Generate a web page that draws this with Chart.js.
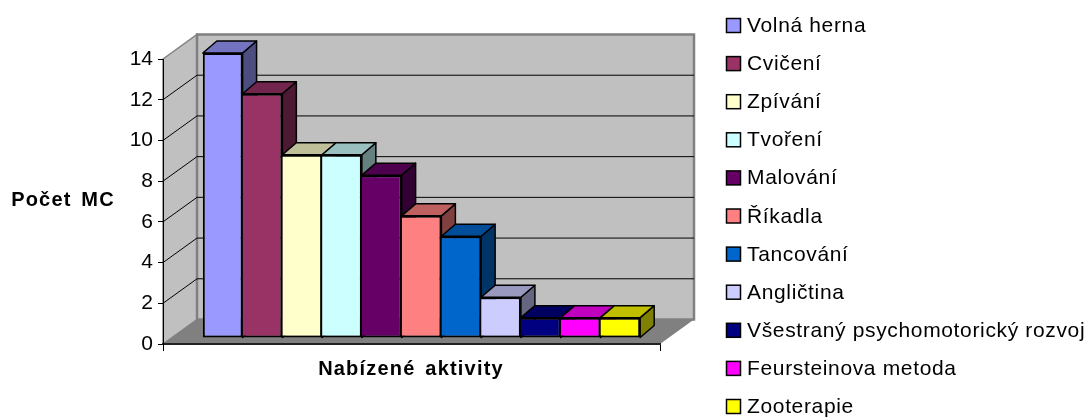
<!DOCTYPE html>
<html>
<head>
<meta charset="utf-8">
<title>Nabízené aktivity</title>
<script src="https://cdn.jsdelivr.net/npm/chart.js@4"></script>
<style>
    html, body { margin: 0; padding: 0; background: #fff; }
    canvas { display: block; }
</style>
</head>
<body>
<canvas id="myChart" width="1091" height="417"></canvas>
<script>
const activities = ['Volná herna', 'Cvičení', 'Zpívání', 'Tvoření', 'Malování', 'Říkadla',
    'Tancování', 'Angličtina', 'Všestraný psychomotorický rozvoj', 'Feursteinova metoda', 'Zooterapie'];
const counts = [14, 12, 9, 9, 8, 6, 5, 2, 1, 1, 1];
const colors = ['#9999FF', '#993366', '#FFFFCC', '#CCFFFF', '#660066', '#FF8080',
    '#0066CC', '#CCCCFF', '#000080', '#FF00FF', '#FFFF00'];
const yTitle = 'Počet MC';
const xTitle = 'Nabízené aktivity';

// fake 3D: how far the back wall and the bars sit behind the axes
const wallDx = 34, wallDy = -24.5;
const barDx = 10, barDy = -6;
const sideDx = 14, sideDy = -12;

function shade(hex, k) {
    const n = parseInt(hex.slice(1), 16);
    return `rgb(${(n >> 16) * k}, ${((n >> 8) & 255) * k}, ${(n & 255) * k})`;
}

function poly(ctx, pts, fill, stroke, lw) {
    ctx.beginPath();
    pts.forEach((p, i) => i ? ctx.lineTo(p[0], p[1]) : ctx.moveTo(p[0], p[1]));
    ctx.closePath();
    if (fill) {
        ctx.fillStyle = fill;
        ctx.fill();
    }
    if (stroke) {
        ctx.strokeStyle = stroke;
        ctx.lineWidth = lw;
        ctx.stroke();
    }
}

const box3d = {
    id: 'box3d',
    beforeDraw(chart) {
        const { ctx, chartArea: a, scales } = chart;
        const bx = a.left + wallDx, rx = a.right + wallDx;
        const ty = a.top + wallDy, by = a.bottom + wallDy;
        ctx.save();
        poly(ctx, [[a.left, a.bottom], [bx, by], [rx, by], [a.right, a.bottom]], '#808080');
        poly(ctx, [[a.left, a.top], [bx, ty], [bx, by], [a.left, a.bottom]], '#C0C0C0', '#808080', 1.5);
        poly(ctx, [[bx, ty], [rx, ty], [rx, by], [bx, by]], '#C0C0C0', '#808080', 2.5);
        ctx.strokeStyle = '#000';
        ctx.lineWidth = 1;
        scales.y.ticks.forEach(t => {
            if (t.value === 0 || t.value === 14) return;
            const y = scales.y.getPixelForValue(t.value);
            ctx.beginPath();
            ctx.moveTo(a.left, y);
            ctx.lineTo(bx, y + wallDy);
            ctx.lineTo(rx, y + wallDy);
            ctx.stroke();
        });
        ctx.restore();
    },
    beforeDatasetsDraw(chart) {
        const ctx = chart.ctx;
        ctx.save();
        ctx.translate(barDx, barDy);
        // tops and sides first, the library paints the fronts over them
        chart.data.datasets.forEach((ds, i) => {
            const bar = chart.getDatasetMeta(i).data[0];
            const l = bar.x - bar.width / 2, r = bar.x + bar.width / 2;
            const t = bar.y, b = bar.base;
            ctx.lineJoin = 'round';
            poly(ctx, [[r, t], [r + sideDx, t + sideDy], [r + sideDx, b + sideDy], [r, b]],
                shade(ds.backgroundColor, 0.5), '#000', 1.5);
            poly(ctx, [[l, t], [l + sideDx, t + sideDy], [r + sideDx, t + sideDy], [r, t]],
                shade(ds.backgroundColor, 0.75), '#000', 1.5);
        });
    },
    afterDatasetsDraw(chart) {
        chart.ctx.restore();
    },
    afterDraw(chart) {
        const ctx = chart.ctx;
        ctx.save();
        ctx.fillStyle = '#000';
        ctx.font = 'bold 20px "Liberation Sans"';
        ctx.letterSpacing = '1.2px';
        ctx.wordSpacing = '3px';
        ctx.textAlign = 'center';
        ctx.textBaseline = 'middle';
        ctx.fillText(yTitle, 63, 200);
        ctx.fillText(xTitle, 411, 369);
        // legend
        ctx.font = '21px "Liberation Sans"';
        ctx.letterSpacing = '0.65px';
        ctx.wordSpacing = '0px';
        ctx.textAlign = 'left';
        ctx.textBaseline = 'alphabetic';
        chart.data.datasets.forEach((ds, i) => {
            const y = 18.5 + i * 38.1;
            ctx.fillStyle = ds.backgroundColor;
            ctx.strokeStyle = '#000';
            ctx.lineWidth = 1.5;
            ctx.fillRect(726.5, y, 14, 14);
            ctx.strokeRect(726.5, y, 14, 14);
            ctx.fillStyle = '#000';
            ctx.fillText(ds.label, 747, y + 13.5);
        });
        ctx.restore();
    }
};

const datasets = activities.map((name, i) => ({
    label: name,
    data: [counts[i]],
    backgroundColor: colors[i],
    borderColor: '#000',
    borderSkipped: false,
    borderWidth: { top: 2, bottom: 2, left: i === 0 ? 2 : 0, right: 2 },
    barPercentage: 1,
    categoryPercentage: 0.88,
    clip: false
}));

const chart = new Chart(document.getElementById('myChart').getContext('2d'), {
    type: 'bar',
    data: { labels: [''], datasets: datasets },
    options: {
        responsive: false,
        animation: false,
        layout: { padding: { left: 0, top: 59, right: 431, bottom: 0 } },
        plugins: { legend: { display: false }, tooltip: { enabled: false } },
        scales: {
            x: {
                afterFit: s => { s.height = 73; },
                border: { color: '#222', width: 2 },
                grid: { drawOnChartArea: false, color: '#000', tickLength: 7 },
                ticks: { display: false }
            },
            y: {
                min: 0,
                max: 14,
                afterFit: s => { s.width = 163; },
                border: { color: '#000', width: 1 },
                grid: { drawOnChartArea: false, color: '#000', tickLength: 5 },
                ticks: {
                    stepSize: 2,
                    color: '#000',
                    padding: 5,
                    font: { family: '"Liberation Sans"', size: 21 }
                }
            }
        }
    },
    plugins: [box3d]
});
</script>
</body>
</html>
